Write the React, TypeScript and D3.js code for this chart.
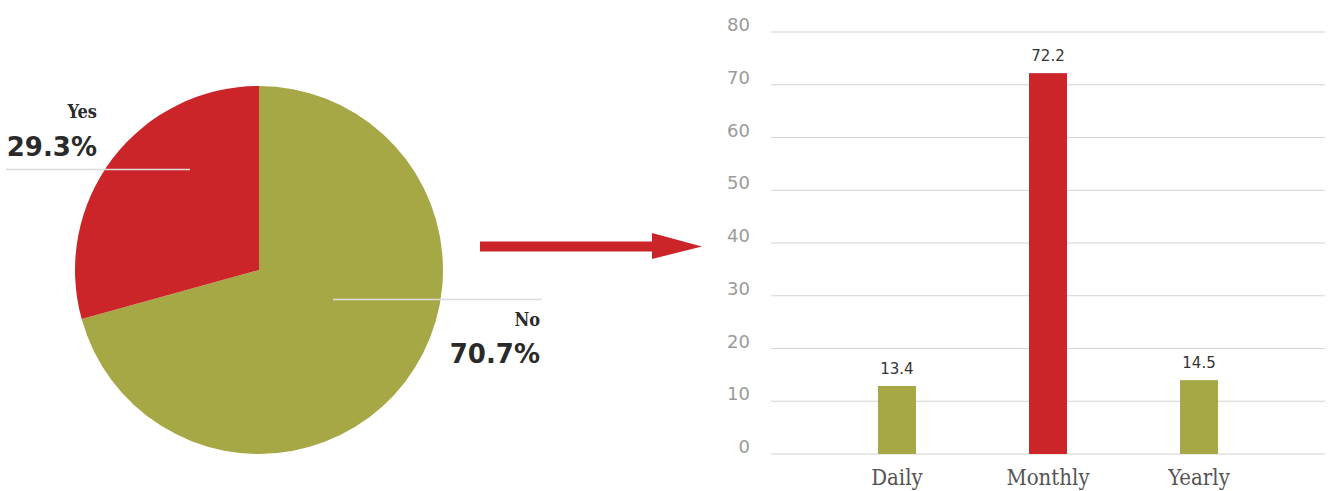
import React from "react";
import * as d3 from "d3";

const pieLabels = ["No", "Yes"];
const pieValues = [70.7, 29.3];
const pieColors = ["#a5a845", "#cc2529"];

const barCategories = ["Daily", "Monthly", "Yearly"];
const barValues = [12.9, 72.2, 14.0];
const barValueLabels = ["13.4", "72.2", "14.5"];
const barColors = ["#a5a845", "#cc2529", "#a5a845"];
const yTicks = [0, 10, 20, 30, 40, 50, 60, 70, 80];

const W = 1328;
const H = 491;

export default function App() {
  const cx = 259, cy = 270, r = 184;
  const pie = d3.pie<number>().sort(null).value((d) => d)(pieValues);
  const arc = d3.arc<d3.PieArcDatum<number>>().innerRadius(0).outerRadius(r);

  const x = d3.scalePoint<string>().domain(barCategories).range([771, 1325]).padding(0.834);
  const y = d3.scaleLinear().domain([0, 80]).range([454, 32]);
  const bw = 38;

  const numFont = "'DejaVu Sans', sans-serif";
  const slabFont = "'DejaVu Serif Condensed', 'DejaVu Serif', serif";

  return (
    <svg width={W} height={H} style={{ position: "absolute", left: 0, top: 0, background: "#fff" }}>
      <g transform={`translate(${cx},${cy})`}>
        {pie.map((p, i) => (
          <path key={i} d={arc(p) || ""} fill={pieColors[i]} />
        ))}
      </g>
      {/* leader lines */}
      <line x1={6} x2={190} y1={169.5} y2={169.5} stroke="#dcdcdc" strokeWidth={1.5} />
      <line x1={333} x2={542} y1={299.5} y2={299.5} stroke="#dcdcdc" strokeWidth={1.5} />
      {/* pie labels */}
      <text x={97} y={118} textAnchor="end" fontFamily={slabFont} fontWeight="bold" fontSize={18} fill="#2a2a2a">
        {pieLabels[1]}
      </text>
      <text x={97} y={156} textAnchor="end" fontFamily={numFont} fontWeight="bold" fontSize={26} fill="#2a2a2a">
        {pieValues[1].toFixed(1)}%
      </text>
      <text x={540} y={326} textAnchor="end" fontFamily={slabFont} fontWeight="bold" fontSize={18} fill="#2a2a2a">
        {pieLabels[0]}
      </text>
      <text x={540} y={363} textAnchor="end" fontFamily={numFont} fontWeight="bold" fontSize={26} fill="#2a2a2a">
        {pieValues[0].toFixed(1)}%
      </text>
      {/* arrow */}
      <rect x={480} y={241.5} width={175} height={10} fill="#cc2529" />
      <path d="M652,233 L702,246.5 L652,259 Z" fill="#cc2529" />
      {/* bar chart grid */}
      {yTicks.map((t) => (
        <g key={t}>
          <line x1={771} x2={1325} y1={y(t)} y2={y(t)} stroke="#d4d4d4" strokeWidth={1.2} />
          <text x={750} y={y(t) - 1} textAnchor="end" fontFamily={numFont} fontSize={18} fill="#9a9a9a">
            {t}
          </text>
        </g>
      ))}
      {barCategories.map((c, i) => {
        const xc = x(c) as number;
        return (
          <g key={c}>
            <rect x={xc - bw / 2} y={y(barValues[i])} width={bw} height={y(0) - y(barValues[i])} fill={barColors[i]} />
            <text x={xc} y={y(barValues[i]) - 12} textAnchor="middle" fontFamily={numFont} fontSize={15} fill="#333">
              {barValueLabels[i]}
            </text>
            <text x={xc} y={485} textAnchor="middle" fontFamily={slabFont} fontSize={22} fill="#555">
              {c}
            </text>
          </g>
        );
      })}
    </svg>
  );
}
